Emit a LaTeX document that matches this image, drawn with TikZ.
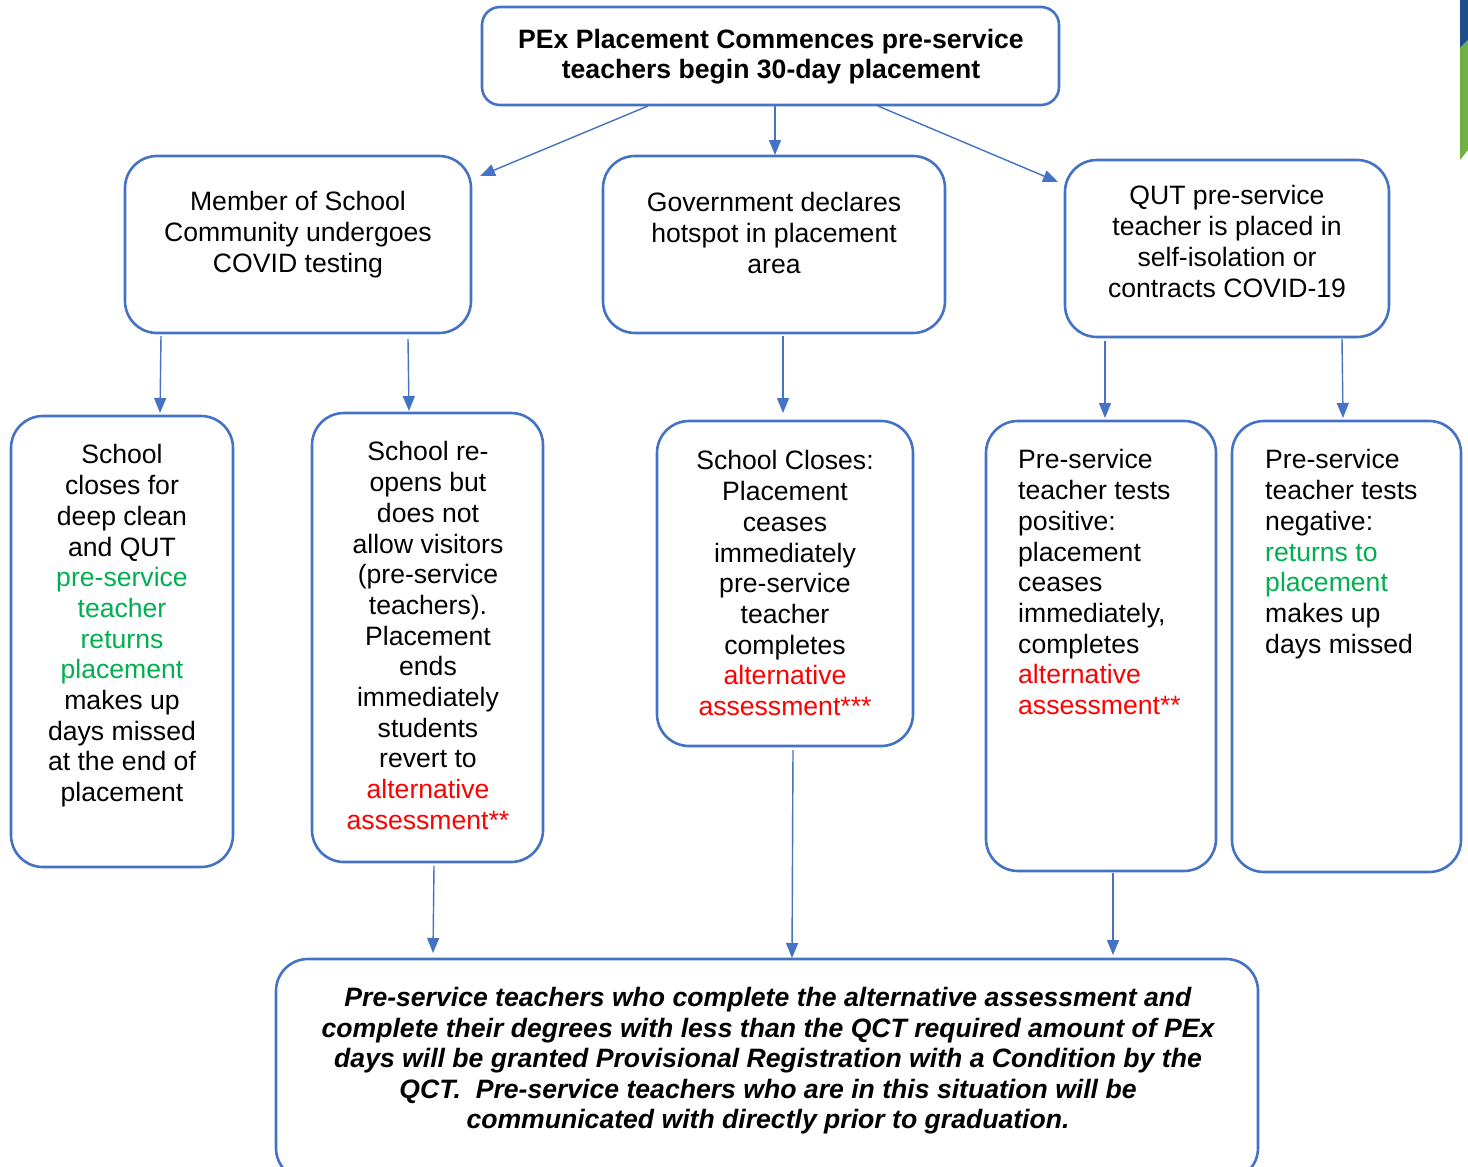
\documentclass[tikz,border=0pt]{standalone}
\usepackage{fontspec}
\setmainfont{Liberation Sans}
\usetikzlibrary{arrows.meta,calc}
\definecolor{bl}{HTML}{4472C4}
\definecolor{gr}{HTML}{00B050}
\definecolor{rd}{HTML}{FF0000}
\definecolor{barblue}{HTML}{1F4E8C}
\definecolor{bargreen}{HTML}{72B043}
\begin{document}
\begin{tikzpicture}[x=1pt,y=-1pt,
  box/.style={draw=bl, line width=2.6pt, rounded corners=32pt, inner sep=0pt, outer sep=0pt},
  txt/.style={inner sep=0pt, anchor=north, align=center, font=\fontsize{26.6}{30.7}\selectfont},
  ltxt/.style={inner sep=0pt, anchor=north west, align=left, font=\fontsize{26.6}{30.7}\selectfont},
  arr/.style={draw=bl, line width=1.4pt, -{Triangle[width=12pt,length=15pt]}}]
\useasboundingbox (0,0) rectangle (1468,1167);
\clip (0,0) rectangle (1468,1167);
\fill[white] (0,0) rectangle (1468,1167);
% decorative bar
\fill[barblue] (1460,0) -- (1468,0) -- (1468,40) -- (1460,48) -- cycle;
\fill[bargreen] (1460,48) -- (1468,40) -- (1468,150) -- (1460,160) -- cycle;
% boxes
\node[box, rounded corners=18pt, minimum width=577pt, minimum height=98pt] (top) at (770.5,56) {};
\node[box, minimum width=346pt, minimum height=177pt] (A) at (298,244.5) {};
\node[box, minimum width=342pt, minimum height=177pt] (B) at (774,244.5) {};
\node[box, minimum width=324pt, minimum height=177pt] (C) at (1227,248.5) {};
\node[box, minimum width=222pt, minimum height=451pt] (D) at (122,641.5) {};
\node[box, minimum width=231pt, minimum height=449pt] (E) at (427.5,637.5) {};
\node[box, minimum width=256pt, minimum height=325pt] (F) at (785,583.5) {};
\node[box, minimum width=230pt, minimum height=450pt] (G) at (1101,646) {};
\node[box, minimum width=229pt, minimum height=451pt] (H) at (1346.5,646.5) {};
\node[box, minimum width=982pt, minimum height=221pt] (bot) at (767,1069.5) {};
% texts
\node[txt, font=\fontsize{26.6}{30}\selectfont\bfseries] (ttop) at (771,29.5) {PEx Placement Commences pre-service\\teachers begin 30-day placement};
\node[txt] (tA) at (298,191.5) {Member of School\\Community undergoes\\COVID testing};
\node[txt] (tB) at (774,192.5) {Government declares\\hotspot in placement\\area};
\node[txt] (tC) at (1227,185.5) {QUT pre-service\\teacher is placed in\\self-isolation or\\contracts COVID-19};
\node[txt] (tD) at (122,444.5) {School\\closes for\\deep clean\\and QUT\\\textcolor{gr}{pre-service}\\\textcolor{gr}{teacher}\\\textcolor{gr}{returns}\\\textcolor{gr}{placement}\\makes up\\days missed\\at the end of\\placement};
\node[txt] (tE) at (428,441.5) {School re-\\opens but\\does not\\allow visitors\\(pre-service\\teachers).\\Placement\\ends\\immediately\\students\\revert to\\\textcolor{rd}{alternative}\\\textcolor{rd}{assessment**}};
\node[txt] (tF) at (785,450.5) {School Closes:\\Placement\\ceases\\immediately\\pre-service\\teacher\\completes\\\textcolor{rd}{alternative}\\\textcolor{rd}{assessment***}};
\node[ltxt] (tG) at (1018,449.5) {Pre-service\\teacher tests\\positive:\\placement\\ceases\\immediately,\\completes\\\textcolor{rd}{alternative}\\\textcolor{rd}{assessment**}};
\node[ltxt] (tH) at (1265,449.5) {Pre-service\\teacher tests\\negative:\\\textcolor{gr}{returns to}\\\textcolor{gr}{placement}\\makes up\\days missed};
\node[txt, font=\fontsize{26.6}{30.5}\selectfont\bfseries\itshape] (tbot) at (768,987.5) {Pre-service teachers who complete the alternative assessment and\\complete their degrees with less than the QCT required amount of PEx\\days will be granted Provisional Registration with a Condition by the\\QCT.\ \ Pre-service teachers who are in this situation will be\\communicated with directly prior to graduation.};
% connectors
\draw[arr] ([shift={(-122.5,1)}]top.south) -- ([shift={(9,20)}]A.north east);
\draw[arr] ([shift={(4.5,1)}]top.south) -- ([shift={(1,-1)}]B.north);
\draw[arr] ([shift={(107.5,1)}]top.south) -- ([shift={(-7,22)}]C.north west);
\draw[arr] ([shift={(-137,3)}]A.south) -- ([shift={(38,-3)}]D.north);
\draw[arr] ([shift={(110,6)}]A.south) -- ([shift={(-18.5,-2)}]E.north);
\draw[arr] ([shift={(9,3)}]B.south) -- ([shift={(-2,-8)}]F.north);
\draw[arr] ([shift={(-122,4)}]C.south) -- ([shift={(4,-3)}]G.north);
\draw[arr] ([shift={(115,2)}]C.south) -- ([shift={(-3.5,-3)}]H.north);
\draw[arr] ([shift={(6.5,4)}]E.south) -- ([shift={(-334,-6)}]bot.north);
\draw[arr] ([shift={(8,4)}]F.south) -- ([shift={(25,-1)}]bot.north);
\draw[arr] ([shift={(12,2)}]G.south) -- ([shift={(346,-4)}]bot.north);
\end{tikzpicture}
\end{document}
